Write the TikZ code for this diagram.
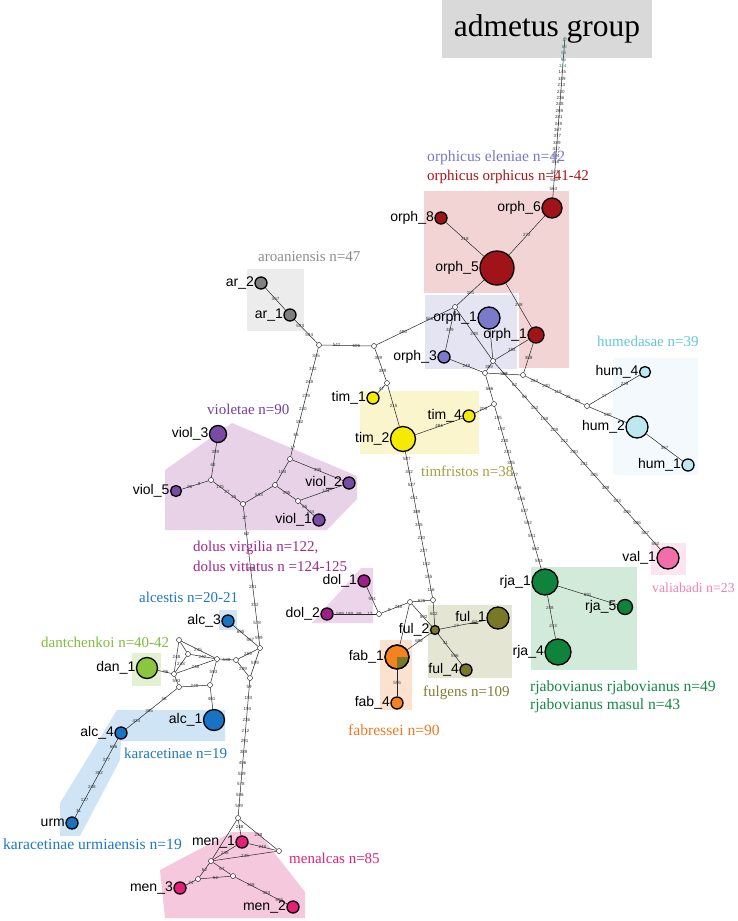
\documentclass[tikz,border=0pt]{standalone}
\usepackage{fontspec}
\setmainfont{Liberation Serif}
\newfontfamily\labfont{Liberation Sans}
\usetikzlibrary{backgrounds,calc}
\pgfdeclarelayer{edgelayer}
\pgfsetlayers{background,edgelayer,main}
% haplotype colours
\definecolor{orphR}{RGB}{160,20,25}
\definecolor{orphB}{RGB}{122,122,200}
\definecolor{arG}{RGB}{128,128,128}
\definecolor{humC}{RGB}{190,232,240}
\definecolor{timY}{RGB}{245,235,0}
\definecolor{violP}{RGB}{120,75,165}
\definecolor{dolM}{RGB}{160,30,140}
\definecolor{alcB}{RGB}{25,115,195}
\definecolor{danG}{RGB}{140,198,63}
\definecolor{fabO}{RGB}{245,130,30}
\definecolor{fulO}{RGB}{120,120,40}
\definecolor{rjaG}{RGB}{15,130,60}
\definecolor{valP}{RGB}{240,110,170}
\definecolor{menM}{RGB}{230,30,120}
% backgrounds
\definecolor{admBg}{RGB}{217,217,217}
\definecolor{orphRbg}{RGB}{242,212,212}
\definecolor{orphBbg}{RGB}{228,228,242}
\definecolor{arBg}{RGB}{236,236,236}
\definecolor{humBg}{RGB}{243,249,253}
\definecolor{timBg}{RGB}{250,245,205}
\definecolor{violBg}{RGB}{232,210,232}
\definecolor{dolBg}{RGB}{236,212,234}
\definecolor{alcBg}{RGB}{207,228,245}
\definecolor{danBg}{RGB}{228,240,210}
\definecolor{fabBg}{RGB}{252,226,206}
\definecolor{fulBg}{RGB}{229,229,212}
\definecolor{rjaBg}{RGB}{210,234,218}
\definecolor{valBg}{RGB}{252,228,240}
\definecolor{menBg}{RGB}{246,200,222}
% text colours
\definecolor{elenT}{RGB}{120,120,200}
\definecolor{orphT}{RGB}{170,20,20}
\definecolor{arT}{RGB}{140,140,140}
\definecolor{humT}{RGB}{100,200,210}
\definecolor{violT}{RGB}{120,60,160}
\definecolor{timT}{RGB}{160,160,60}
\definecolor{dolT}{RGB}{160,40,140}
\definecolor{alcT}{RGB}{30,120,195}
\definecolor{danT}{RGB}{125,190,60}
\definecolor{fabT}{RGB}{240,120,30}
\definecolor{fulT}{RGB}{125,125,50}
\definecolor{rjaT}{RGB}{20,135,70}
\definecolor{valT}{RGB}{240,130,180}
\definecolor{menT}{RGB}{230,30,120}
\definecolor{tealT}{RGB}{40,130,120}
\begin{document}
\begin{tikzpicture}[x=1pt,y=-1pt,
  hap/.style={circle,draw=black,line width=1.3pt,inner sep=0pt,minimum size=#1},
  jn/.style={circle,draw=black,fill=white,line width=0.4pt,minimum size=5pt,inner sep=0pt},
  lbl/.style={font=\labfont\fontsize{14}{15}\selectfont,inner sep=0.3pt,text=black},
  every label/.style={lbl},
  label distance=0pt,
  edge/.style={draw=black!85,line width=0.5pt},
  mut/.style={font=\labfont\fontsize{4.5}{5}\selectfont,inner sep=0pt,text=black!80},
  grp/.style={font=\fontsize{15}{16}\selectfont,anchor=west,inner sep=0pt},
  region/.style={draw=none}]
\useasboundingbox (0,0) rectangle (738,921);

% ---------------- background regions ----------------
\begin{pgfonlayer}{background}
\fill[admBg] (442,0) rectangle (652,58);
\fill[orphRbg] (424,191) rectangle (569,368);
\filldraw[fill=orphBbg,draw=white,line width=2pt] (424,294) rectangle (518,370);
\fill[arBg] (247,269) rectangle (304,331);
\fill[humBg] (613,358) rectangle (698,475);
\fill[timBg] (360,391) rectangle (479,454);
\fill[violBg] (165,470) -- (232,423) -- (357,476) -- (357,499) -- (327,530) -- (165,530) -- cycle;
\fill[dolBg] (361,568) -- (373,568) -- (373,623) -- (312,623) -- cycle;
\fill[alcBg] (219,610) rectangle (237,630);
\fill[danBg] (132,653) rectangle (161,686);
\fill[alcBg] (117,710) -- (225,710) -- (225,741) -- (121,741) -- (120,760) -- (80,836) -- (60,836) -- (60,803) -- cycle;
\fill[fabBg] (380,640) rectangle (412,710);
\fill[fulBg] (428,605) rectangle (512,678);
\fill[rjaBg] (531,567) rectangle (637,670);
\fill[valBg] (651,543) rectangle (686,575);
\fill[menBg] (160,870) -- (232,832) -- (258,832) -- (305,892) -- (305,918) -- (165,918) -- cycle;
\end{pgfonlayer}

% ---------------- group titles ----------------
\node[font=\fontsize{31.5}{33}\selectfont,inner sep=0pt] (title) at (547,29) {admetus group};
\node[grp,text=elenT,font=\fontsize{15.6}{17}\selectfont] (tElen) at (427,158) {orphicus eleniae n=42};
\node[grp,text=orphT] (tOrph) at (427,177) {orphicus orphicus n=41-42};
\node[grp,text=arT] (tAr) at (258,257) {aroaniensis n=47};
\node[grp,text=humT] (tHum) at (597,341) {humedasae n=39};
\node[grp,text=violT] (tViol) at (207,409) {violetae n=90};
\node[grp,text=timT] (tTim) at (421,471) {timfristos n=38};
\node[grp,text=dolT] (tDol1) at (193,548) {dolus virgilia n=122,};
\node[grp,text=dolT] (tDol2) at (193,566) {dolus vittatus n =124-125};
\node[grp,text=alcT] (tAlc) at (139,597) {alcestis n=20-21};
\node[grp,text=danT] (tDan) at (41,642) {dantchenkoi n=40-42};
\node[grp,text=fulT] (tFul) at (423,693) {fulgens n=109};
\node[grp,text=rjaT,font=\fontsize{15.6}{17}\selectfont] (tRja1) at (530,688) {rjabovianus rjabovianus n=49};
\node[grp,text=rjaT,font=\fontsize{15.6}{17}\selectfont] (tRja2) at (530,706) {rjabovianus masul n=43};
\node[grp,text=valT,font=\fontsize{13.8}{15}\selectfont] (tVal) at (652,588) {valiabadi n=23};
\node[grp,text=fabT,font=\fontsize{15.6}{17}\selectfont] (tFab) at (348,730) {fabressei n=90};
\node[grp,text=alcT,fill=white,inner sep=1pt] (tKar) at (123,753) {karacetinae n=19};
\node[grp,text=alcT,font=\fontsize{15.6}{17}\selectfont] (tUrm) at (3,844) {karacetinae urmiaensis n=19};
\node[grp,text=menT] (tMen) at (289,858) {menalcas n=85};

% ---------------- haplotypes ----------------
\coordinate (adm) at (565,37);
\node[hap=20pt,fill=orphR,label=180:orph\_6] (orph6) at (552,208) {};
\node[hap=12pt,fill=orphR,label=180:orph\_8] (orph8) at (441,218) {};
\node[hap=34pt,fill=orphR,label=180:orph\_5] (orph5) at (497,268) {};
\node[hap=16pt,fill=orphR,label=180:orph\_1] (orph1r) at (536,335) {};
\node[hap=22pt,fill=orphB,label=180:orph\_1] (orph1b) at (489,318) {};
\node[hap=12pt,fill=orphB,label=180:orph\_3] (orph3) at (444,357) {};
\node[hap=12pt,fill=arG,label=180:ar\_2] (ar2) at (261,283) {};
\node[hap=12pt,fill=arG,label=180:ar\_1] (ar1) at (290,315) {};
\node[hap=12pt,fill=timY,label=180:tim\_1] (tim1) at (373,398) {};
\node[hap=25pt,fill=timY,label=180:tim\_2] (tim2) at (403,439) {};
\node[hap=12pt,fill=timY,label=180:tim\_4] (tim4) at (469,416) {};
\node[hap=11pt,fill=humC,label=180:hum\_4] (hum4) at (645,372) {};
\node[hap=22pt,fill=humC,label=180:hum\_2] (hum2) at (637,427) {};
\node[hap=12pt,fill=humC,label=180:hum\_1] (hum1) at (688,465) {};
\node[hap=17pt,fill=violP,label=180:viol\_3] (viol3) at (218,434) {};
\node[hap=11pt,fill=violP,label=180:viol\_5] (viol5) at (176,491) {};
\node[hap=12pt,fill=violP,label=180:viol\_2] (viol2) at (349,483) {};
\node[hap=12pt,fill=violP,label=180:viol\_1] (viol1) at (319,520) {};
\node[hap=12pt,fill=dolM,label=180:dol\_1] (dol1) at (364,581) {};
\node[hap=12pt,fill=dolM,label=180:dol\_2] (dol2) at (327,614) {};
\node[hap=22pt,fill=fulO,label=180:ful\_1] (ful1) at (498,618) {};
\node[hap=9pt,fill=fulO,label=180:ful\_2] (ful2) at (435,630) {};
\node[hap=12pt,fill=fulO,label=180:ful\_4] (ful4) at (466,670) {};
\node[hap=24pt,fill=fabO,label=180:fab\_1] (fab1) at (397,657) {};
\node[hap=12pt,fill=fabO,label=180:fab\_4] (fab4) at (397,703) {};
\node[hap=12pt,fill=alcB,label=180:alc\_3] (alc3) at (228,621) {};
\node[hap=21pt,fill=danG,label=180:dan\_1] (dan1) at (147,668) {};
\node[hap=21pt,fill=alcB,label=180:alc\_1] (alc1) at (214,720) {};
\node[hap=12pt,fill=alcB,label=180:alc\_4] (alc4) at (121,733) {};
\node[hap=12pt,fill=alcB,label=180:urm] (urm) at (72,823) {};
\node[hap=12pt,fill=menM,label=180:men\_1] (men1) at (242,842) {};
\node[hap=12pt,fill=menM,label=180:men\_3] (men3) at (180,888) {};
\node[hap=12pt,fill=menM,label=180:men\_2] (men2) at (293,907) {};
\node[hap=26pt,fill=rjaG,label=180:rja\_1] (rja1) at (545,582) {};
\node[hap=15pt,fill=rjaG,label=180:rja\_5] (rja5) at (625,607) {};
\node[hap=26pt,fill=rjaG,label=180:rja\_4] (rja4) at (558,652) {};
\node[hap=22pt,fill=valP,label=180:val\_1] (val1) at (668,558) {};

% olive wedge of fab_1
\begin{scope}
\clip (397,657) rectangle (412,672);
\fill[fulO] (fab1.center) circle[radius=11.3pt];
\end{scope}
\draw[line width=1.3pt] (fab1.center) circle[radius=11.9pt];

% ---------------- median vectors ----------------
\node[jn] (J1) at (455,307) {};
\node[jn] (J2) at (493,361) {};
\node[jn] (J3) at (485,373) {};
\node[jn] (J5) at (523,375) {};
\node[jn] (Jh) at (587,406) {};
\node[jn] (J6) at (494,404) {};
\node[jn] (J4) at (374,346) {};
\node[jn] (J12) at (319,345) {};
\node[jn] (J7) at (387,383) {};
\node[jn] (J9) at (433,600) {};
\node[jn] (J10) at (410,602) {};
\node[jn] (J11) at (379,614) {};
\node[jn] (J13) at (290,459) {};
\node[jn] (J14) at (275,485) {};
\node[jn] (J15) at (243,504) {};
\node[jn] (J16) at (298,501) {};
\node[jn] (J17) at (211,480) {};
\node[jn] (A1) at (260,648) {};
\node[jn] (A3) at (236,660) {};
\node[jn] (A4) at (250,678) {};
\node[jn] (A5) at (217,659) {};
\node[jn] (B1) at (179,640) {};
\node[jn] (B2) at (188,654) {};
\node[jn] (B3) at (174,674) {};
\node[jn] (B4) at (179,687) {};
\node[jn] (B5) at (210,685) {};
\node[jn] (M1) at (238,818) {};
\node[jn] (M2) at (279,851) {};
\node[jn] (M3) at (211,861) {};
\node[jn] (M4) at (198,879) {};
\node[jn] (M5) at (233,876) {};

% ---------------- connectors ----------------
\begin{pgfonlayer}{edgelayer}
\path[edge] (adm) -- (orph6)
  node[mut,pos=.02,text=tealT]{17} node[mut,pos=.06,text=tealT]{62} node[mut,pos=.10,text=tealT]{65}
  node[mut,pos=.14,text=tealT]{96} node[mut,pos=.18,text=tealT]{114} node[mut,pos=.22]{145}
  node[mut,pos=.26]{189} node[mut,pos=.30]{213} node[mut,pos=.34]{230} node[mut,pos=.38]{236}
  node[mut,pos=.42]{248} node[mut,pos=.46]{269} node[mut,pos=.50]{281} node[mut,pos=.54]{349}
  node[mut,pos=.58]{367} node[mut,pos=.62]{377} node[mut,pos=.66]{389} node[mut,pos=.70]{417}
  node[mut,pos=.74]{434} node[mut,pos=.78]{446} node[mut,pos=.84]{527} node[mut,pos=.89]{536}
  node[mut,pos=.95]{563};
\path[edge] (orph6) -- (orph5) node[mut,pos=.5]{272};
\path[edge] (orph8) -- (orph5) node[mut,pos=.5]{218};
\path[edge] (orph5) -- (J1) node[mut,pos=.5]{181};
\path[edge] (orph5) -- (orph1r) node[mut,pos=.5]{248};
\path[edge] (J1) -- (orph3) node[mut,pos=.5]{389};
\path[edge] (J1) -- (J2) node[mut,pos=.5]{248};
\path[edge] (orph1b) -- (J2);
\path[edge] (orph1r) -- (J2) node[mut,pos=.5]{194};
\path[edge] (orph1r) -- (J5) node[mut,pos=.5]{389};
\path[edge] (J1) -- (J4) node[mut,pos=.3]{566} node[mut,pos=.65]{486};
\path[edge] (orph3) -- (J3) node[mut,pos=.5]{248};
\path[edge] (J2) -- (J3) node[mut,pos=.5]{389};
\path[edge] (J3) -- (J5) node[mut,pos=.5]{264};
\path[edge] (J5) -- (Jh) node[mut,pos=.15]{264} node[mut,pos=.35]{230} node[mut,pos=.55]{119}
  node[mut,pos=.72]{25} node[mut,pos=.88]{95};
\path[edge] (Jh) -- (hum4) node[mut,pos=.3]{17} node[mut,pos=.7]{229};
\path[edge] (Jh) -- (hum2) node[mut,pos=.5]{590};
\path[edge] (hum2) -- (hum1) node[mut,pos=.5]{367};
\path[edge] (J3) -- (J6) node[mut,pos=.5]{566};
\path[edge] (J6) -- (tim4) node[mut,pos=.5]{209};
\path[edge] (J6) -- (rja1)
  node[mut,pos=.07]{195} node[mut,pos=.14]{192} node[mut,pos=.21]{230} node[mut,pos=.28]{231}
  node[mut,pos=.35]{345} node[mut,pos=.42]{377} node[mut,pos=.50]{446} node[mut,pos=.57]{455}
  node[mut,pos=.64]{537} node[mut,pos=.72]{592} node[mut,pos=.80]{551} node[mut,pos=.88]{562}
  node[mut,pos=.95]{593};
\path[edge] (J2) -- (val1)
  node[mut,pos=.06]{26} node[mut,pos=.12]{62} node[mut,pos=.18]{65} node[mut,pos=.24]{152}
  node[mut,pos=.30]{158} node[mut,pos=.36]{209} node[mut,pos=.42]{212} node[mut,pos=.48]{230}
  node[mut,pos=.54]{231} node[mut,pos=.60]{345} node[mut,pos=.67]{389} node[mut,pos=.74]{443}
  node[mut,pos=.80]{446} node[mut,pos=.86]{536} node[mut,pos=.91]{587} node[mut,pos=.97]{592};
\path[edge] (J4) -- (J12) node[mut,pos=.3]{606} node[mut,pos=.7]{542};
\path[edge] (J12) -- (ar1) node[mut,pos=.35]{594} node[mut,pos=.75]{593};
\path[edge] (ar1) -- (ar2) node[mut,pos=.5]{367};
\path[edge] (J4) -- (J7) node[mut,pos=.3]{389} node[mut,pos=.7]{389};
\path[edge] (J7) -- (tim1) node[mut,pos=.5]{47};
\path[edge] (J7) -- (tim2) node[mut,pos=.5]{215};
\path[edge] (tim2) -- (tim4) node[mut,pos=.5]{494};
\path[edge] (tim2) -- (J9)
  node[mut,pos=.05]{587} node[mut,pos=.14]{342} node[mut,pos=.23]{527} node[mut,pos=.32]{451}
  node[mut,pos=.41]{389} node[mut,pos=.50]{345} node[mut,pos=.59]{230} node[mut,pos=.68]{227}
  node[mut,pos=.77]{182} node[mut,pos=.86]{155} node[mut,pos=.95]{116};
\path[edge] (J9) -- (J10) node[mut,pos=.5]{626};
\path[edge] (J10) -- (J11) node[mut,pos=.35]{248} node[mut,pos=.7]{9};
\path[edge] (J11) -- (dol1) node[mut,pos=.5]{591};
\path[edge] (J11) -- (dol2) node[mut,pos=.15]{17} node[mut,pos=.4]{69} node[mut,pos=.63]{189} node[mut,pos=.85]{589};
\path[edge] (J10) -- (fab1);
\path[edge] (J10) -- (ful2) node[mut,pos=.6]{592};
\path[edge] (J9) -- (ful2) node[mut,pos=.5]{602};
\path[edge] (ful2) -- (ful1) node[mut,pos=.35]{17} node[mut,pos=.75]{62};
\path[edge] (ful2) -- (fab1) node[mut,pos=.5]{692};
\path[edge] (ful2) -- (ful4) node[mut,pos=.3]{31} node[mut,pos=.7]{596};
\path[edge] (fab1) -- (fab4) node[mut,pos=.5]{596};
\path[edge] (J12) -- (J13)
  node[mut,pos=.08]{345} node[mut,pos=.2]{332} node[mut,pos=.32]{248} node[mut,pos=.44]{239}
  node[mut,pos=.56]{230} node[mut,pos=.68]{182} node[mut,pos=.8]{65} node[mut,pos=.92]{17};
\path[edge] (J13) -- (viol2) node[mut,pos=.5]{395};
\path[edge] (J13) -- (J14) node[mut,pos=.5]{104};
\path[edge] (J14) -- (J15) node[mut,pos=.5]{593};
\path[edge] (J14) -- (J16) node[mut,pos=.5]{395};
\path[edge] (J16) -- (viol2) node[mut,pos=.6]{144};
\path[edge] (J16) -- (viol1) node[mut,pos=.35]{65} node[mut,pos=.75]{244};
\path[edge] (J15) -- (J17) node[mut,pos=.25]{25} node[mut,pos=.5]{27} node[mut,pos=.75]{145};
\path[edge] (J17) -- (viol3) node[mut,pos=.35]{62} node[mut,pos=.75]{389};
\path[edge] (J17) -- (viol5) node[mut,pos=.35]{8} node[mut,pos=.7]{90};
\path[edge] (J15) -- (A1)
  node[mut,pos=.08]{17} node[mut,pos=.2]{62} node[mut,pos=.45]{259} node[mut,pos=.58]{281}
  node[mut,pos=.71]{332} node[mut,pos=.84]{578} node[mut,pos=.95]{599};
\path[edge] (alc3) -- (A1) node[mut,pos=.3]{695} node[mut,pos=.7]{597};
\path[edge] (A1) -- (A3) node[mut,pos=.5]{269};
\path[edge] (A1) -- (A4) node[mut,pos=.5]{599};
\path[edge] (A3) -- (A4) node[mut,pos=.5]{289};
\path[edge] (A5) -- (A3) node[mut,pos=.5]{538};
\path[edge] (A4) -- (M1)
  node[mut,pos=.05]{59} node[mut,pos=.13]{193} node[mut,pos=.21]{194} node[mut,pos=.29]{236}
  node[mut,pos=.37]{212} node[mut,pos=.45]{291} node[mut,pos=.53]{389} node[mut,pos=.61]{496}
  node[mut,pos=.69]{589} node[mut,pos=.77]{578} node[mut,pos=.85]{586} node[mut,pos=.93]{599};
\path[edge] (B1) -- (A5) node[mut,pos=.5]{245};
\path[edge] (B2) -- (A5) node[mut,pos=.5]{242};
\path[edge] (B1) -- (B2);
\path[edge] (B1) -- (B3) node[mut,pos=.5]{248};
\path[edge] (B2) -- (B3) node[mut,pos=.5]{248};
\path[edge] (B3) -- (A5) node[mut,pos=.5]{248};
\path[edge] (B3) -- (dan1) node[mut,pos=.4]{96};
\path[edge] (B3) -- (B4) node[mut,pos=.5]{593};
\path[edge] (B4) -- (B5) node[mut,pos=.5]{248};
\path[edge] (B5) -- (A5) node[mut,pos=.5]{593};
\path[edge] (B5) -- (alc1) node[mut,pos=.55]{461};
\path[edge] (B4) -- (alc4) node[mut,pos=.25]{58} node[mut,pos=.55]{385} node[mut,pos=.8]{434};
\path[edge] (alc4) -- (urm)
  node[mut,pos=.1]{606} node[mut,pos=.27]{377} node[mut,pos=.44]{382} node[mut,pos=.61]{248}
  node[mut,pos=.78]{127} node[mut,pos=.92]{31};
\path[edge] (M1) -- (men1) node[mut,pos=.45]{248};
\path[edge] (M1) -- (M2) node[mut,pos=.5]{248};
\path[edge] (M1) -- (M3);
\path[edge] (men1) -- (M2) node[mut,pos=.5]{248};
\path[edge] (M3) -- (men1) node[mut,pos=.5]{248};
\path[edge] (M3) -- (M2) node[mut,pos=.5]{245};
\path[edge] (M3) -- (M4) node[mut,pos=.5]{62};
\path[edge] (M3) -- (M5) node[mut,pos=.5]{67};
\path[edge] (M4) -- (M5) node[mut,pos=.5]{62};
\path[edge] (M4) -- (men3) node[mut,pos=.5]{74};
\path[edge] (M5) -- (men2) node[mut,pos=.3]{368} node[mut,pos=.6]{384} node[mut,pos=.85]{695};
\path[edge] (rja1) -- (rja5) node[mut,pos=.5]{591};
\path[edge] (rja1) -- (rja4) node[mut,pos=.3]{248} node[mut,pos=.7]{243};
\end{pgfonlayer}
\end{tikzpicture}
\end{document}
